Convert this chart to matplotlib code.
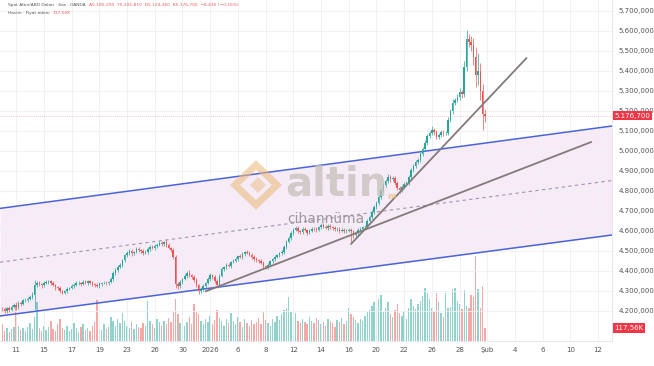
import matplotlib

matplotlib.use("Agg")
import matplotlib.pyplot as plt
import numpy as np
from matplotlib.patches import Polygon

# 4h bars, spot gold (OANDA)
first_open = 4212
close = [
    4208, 4200, 4215, 4205, 4222, 4230, 4218, 4240, 4235, 4255,
    4255, 4262, 4270, 4282, 4330, 4340, 4335, 4328, 4342, 4345,
    4348, 4340, 4330, 4318, 4315, 4300, 4292, 4298, 4310, 4316,
    4325, 4332, 4338, 4340, 4336, 4345, 4342, 4348, 4340, 4335,
    4330, 4325, 4335, 4340, 4342, 4338, 4346, 4360, 4392, 4405,
    4420, 4432, 4455, 4478, 4492, 4500, 4488, 4495, 4510, 4505,
    4498, 4490, 4495, 4512, 4520, 4515, 4525, 4532, 4540, 4535,
    4545, 4530, 4515, 4505, 4470, 4335, 4325, 4345, 4360, 4375,
    4392, 4380, 4370, 4355, 4330, 4298, 4310, 4325, 4340, 4360,
    4380, 4372, 4350, 4330, 4375, 4410, 4418, 4430, 4425, 4445,
    4452, 4460, 4475, 4470, 4485, 4495, 4490, 4482, 4470, 4460,
    4455, 4448, 4440, 4425, 4420, 4432, 4448, 4460, 4470, 4478,
    4488, 4495, 4520, 4545, 4565, 4590, 4605, 4615, 4600, 4595,
    4610, 4605, 4592, 4600, 4612, 4608, 4605, 4618, 4630, 4622,
    4615, 4625, 4620, 4615, 4608, 4612, 4600, 4605, 4598, 4602,
    4605, 4600, 4580, 4590, 4605, 4612, 4618, 4620, 4650, 4670,
    4695, 4720, 4740, 4770, 4805, 4830, 4850, 4870, 4860, 4865,
    4840, 4815, 4805, 4820, 4835, 4840, 4870, 4905, 4925, 4945,
    4955, 4985, 5010, 5040, 5075, 5090, 5105, 5095, 5070, 5080,
    5095, 5088, 5090, 5155, 5200, 5240, 5255, 5270, 5295, 5285,
    5420, 5560, 5545, 5530, 5470, 5380, 5400, 5300, 5185, 5176.7,
]
wick_hi = [
    8, 10, 6, 12, 8, 10, 15, 8, 10, 6,
    8, 6, 10, 12, 25, 8, 10, 6, 8, 10,
    6, 8, 10, 6, 8, 12, 6, 8, 10, 6,
    8, 6, 10, 8, 6, 8, 10, 6, 8, 12,
    6, 8, 10, 6, 8, 10, 6, 12, 8, 10,
    8, 10, 6, 8, 10, 12, 8, 6, 10, 8,
    6, 10, 8, 6, 12, 8, 10, 6, 8, 10,
    6, 8, 10, 6, 8, 12, 10, 8, 6, 10,
    8, 12, 6, 10, 8, 6, 10, 8, 6, 8,
    10, 6, 8, 12, 10, 8, 6, 10, 8, 6,
    8, 10, 6, 12, 8, 6, 10, 8, 6, 10,
    8, 6, 10, 8, 6, 10, 8, 6, 10, 8,
    6, 10, 8, 12, 10, 8, 10, 12, 8, 6,
    10, 8, 6, 10, 8, 6, 12, 8, 10, 8,
    6, 10, 8, 6, 12, 8, 6, 10, 8, 6,
    8, 10, 6, 8, 10, 6, 8, 12, 10, 8,
    10, 12, 8, 10, 12, 10, 8, 15, 12, 10,
    8, 12, 10, 8, 10, 12, 10, 8, 12, 10,
    12, 10, 8, 15, 12, 10, 20, 12, 10, 8,
    12, 10, 8, 15, 12, 20, 10, 15, 20, 12,
    30, 45, 25, 30, 35, 50, 90, 40, 35, 25,
]
wick_lo = [
    10, 8, 12, 10, 6, 8, 12, 10, 8, 6,
    10, 8, 6, 10, 70, 10, 8, 12, 6, 8,
    10, 8, 6, 12, 8, 10, 6, 8, 10, 6,
    8, 10, 6, 8, 10, 6, 8, 12, 6, 8,
    10, 6, 8, 10, 6, 8, 10, 6, 8, 12,
    8, 6, 10, 8, 6, 10, 12, 8, 6, 10,
    8, 10, 6, 8, 10, 6, 8, 10, 6, 8,
    10, 8, 6, 10, 12, 20, 15, 10, 8, 6,
    10, 8, 12, 10, 8, 12, 10, 8, 10, 6,
    8, 10, 12, 15, 8, 6, 10, 8, 6, 10,
    6, 8, 10, 6, 8, 10, 6, 8, 10, 8,
    10, 8, 6, 12, 10, 8, 6, 10, 8, 6,
    8, 6, 10, 8, 6, 10, 8, 6, 10, 12,
    8, 6, 10, 8, 6, 10, 8, 6, 10, 8,
    6, 10, 8, 12, 6, 8, 10, 6, 8, 10,
    8, 60, 15, 10, 8, 6, 10, 8, 6, 10,
    8, 10, 12, 8, 10, 12, 8, 10, 15, 10,
    12, 10, 15, 8, 10, 12, 8, 10, 12, 10,
    10, 12, 10, 8, 12, 10, 8, 15, 12, 10,
    12, 15, 10, 12, 10, 15, 12, 10, 15, 20,
    15, 20, 25, 30, 40, 60, 50, 45, 80, 30,
]
volume_k = [
    150, 90, 120, 80, 110, 130, 310, 140, 100, 120,
    90, 130, 160, 110, 220, 350, 120, 90, 140, 100,
    130, 180, 110, 90, 150, 200, 120, 100, 140, 90,
    110, 160, 120, 80, 130, 150, 100, 120, 90, 140,
    170, 370, 120, 100, 150, 110, 130, 220, 180, 140,
    200, 160, 250, 180, 140, 120, 170, 110, 150, 130,
    120, 160, 140, 360, 180, 150, 120, 200, 170, 140,
    180, 150, 210, 170, 260, 380, 240, 160, 200, 140,
    170, 220, 150, 330, 260, 240, 180, 150, 200, 170,
    230, 150, 190, 280, 210, 180, 140, 200, 160, 250,
    180, 150, 220, 170, 130, 200, 160, 140, 190, 150,
    170, 210, 150, 260, 190, 160, 140, 200, 170, 230,
    190, 240, 280, 300, 400, 260, 220, 250, 180, 160,
    200, 170, 150, 220, 180, 160, 210, 190, 150, 170,
    140, 200, 180, 160, 130, 190, 170, 210, 150, 180,
    300, 240, 220, 190, 160, 200, 180, 230, 260, 280,
    320, 350, 300, 380, 420, 260, 300, 350, 240, 220,
    280, 330, 250, 230, 270, 200, 300, 380, 320, 290,
    330, 360, 410, 480, 430, 380, 300, 270, 430, 350,
    250, 220, 430, 300, 310, 470, 480, 360, 330, 290,
    460, 320, 300, 420, 400, 770, 470, 300, 500, 117.56,
]

day_labels = ["11", "15", "17", "19", "23", "26", "30", "2026", "6", "8", "12",
              "14", "16", "20", "22", "26", "28", "Şub", "4", "6", "10", "12"]
price_ticks = list(range(4200, 5800, 100))

# drawings on the chart: (bar, price) end points
channel_upper = [(-1, 4713), (264, 5125)]
channel_lower = [(-1, 4175), (264, 4580)]
trend_long = [(88, 4298), (255, 5045)]
trend_steep = [(151, 4535), (227, 5465)]
last_price = 5176.7

GREEN = "#26a69a"
RED = "#ef5350"
W, H = 654, 366


def fx(x):
    return x / W


def fy(y):
    return 1 - y / H


def tr_num(v):
    return f"{v:,.3f}".replace(",", " ").replace(".", ",").replace(" ", ".")


o = np.array([first_open] + close[:-1], dtype=float)
c = np.array(close, dtype=float)
idx = np.arange(len(c))
hi = np.maximum(o, c) + np.array(wick_hi)
lo = np.minimum(o, c) - np.array(wick_lo)
colors = np.where(c >= o, GREEN, RED)

fig = plt.figure(figsize=(W / 100, H / 100), dpi=100)
ax = fig.add_axes([0, 25 / H, 612 / W, 341 / H])
ax2 = ax.twinx()

# volume pane
ax2.bar(idx, volume_k, width=0.6, color=colors, alpha=0.5, linewidth=0)
ax2.set_ylim(0, 3083)
ax2.set_yticks([])
for s in ax2.spines.values():
    s.set_visible(False)
ax.set_zorder(ax2.get_zorder() + 1)
ax.patch.set_visible(False)

# channel
xs = [channel_upper[0][0], channel_upper[1][0]]
up_y = [channel_upper[0][1], channel_upper[1][1]]
lo_y = [channel_lower[0][1], channel_lower[1][1]]
mid_y = [(a + b) / 2 for a, b in zip(up_y, lo_y)]
ax.fill_between(xs, lo_y, up_y, color="#9c27b0", alpha=0.09, linewidth=0, zorder=0)
ax.plot(xs, up_y, color="#4a63d8", lw=1.1, zorder=2)
ax.plot(xs, lo_y, color="#4a63d8", lw=1.1, zorder=2)
ax.plot(xs, mid_y, color="#a294b0", lw=0.8, ls=(0, (3, 3)), zorder=2)

# candles
ax.vlines(idx, lo, hi, colors=colors, lw=0.5, zorder=3)
ax.bar(idx, np.maximum(np.abs(c - o), 1.5), bottom=np.minimum(o, c), width=0.65,
       color=colors, linewidth=0, zorder=3)

# trend lines
for line in (trend_long, trend_steep):
    ax.plot([line[0][0], line[1][0]], [line[0][1], line[1][1]],
            color="#857a7a", lw=1.3, zorder=4, solid_capstyle="round")

ax.axhline(last_price, color=RED, lw=0.5, ls=(0, (1, 2)), alpha=0.6, zorder=2)

ax.set_xlim(-1, 264)
ax.set_ylim(4050, 5755)
ax.set_xticks(np.arange(len(day_labels)) * 12 + 6)
ax.set_xticklabels(day_labels)
ax.set_yticks(price_ticks)
ax.set_yticklabels([tr_num(p) for p in price_ticks])
ax.yaxis.tick_right()
ax.tick_params(axis="y", length=0, pad=5, labelsize=5, labelcolor="#555555")
ax.tick_params(axis="x", length=0, pad=4, labelsize=5, labelcolor="#555555")
ax.grid(color="#eef0f4", lw=0.6)
ax.set_axisbelow(True)
for side in ("top", "left"):
    ax.spines[side].set_visible(False)
for side in ("right", "bottom"):
    ax.spines[side].set_color("#e0e3eb")
    ax.spines[side].set_linewidth(0.6)

# last value tags on the scale
ax.text(1.004, last_price, tr_num(last_price), transform=ax.get_yaxis_transform(),
        fontsize=5, color="white", va="center", ha="left", zorder=10, clip_on=False,
        bbox=dict(boxstyle="square,pad=0.25", facecolor="#f23645", edgecolor="none"))
ax2.text(1.004, volume_k[-1], "117,56K", transform=ax2.get_yaxis_transform(),
         fontsize=5, color="white", va="center", ha="left", clip_on=False,
         bbox=dict(boxstyle="square,pad=0.25", facecolor="#f23645", edgecolor="none"))

# header legend, red parts placed right after the grey parts
fig.canvas.draw()
renderer = fig.canvas.get_renderer()
head = [
    ("Spot Altın/ABD Doları · 4sa · OANDA",
     "A5.185,290  Y5.205,810  D5.124,260  K5.176,700  −8,435 (−0,16%)", 5),
    ("Hacim · Fiyat adımı", "117,56K", 13),
]
for grey, red, y in head:
    t = fig.text(fx(8), fy(y), grey, fontsize=3.2, color="#555555", va="center")
    x_end = t.get_window_extent(renderer).x1
    fig.text((x_end + 3) / W, fy(y), red, fontsize=3.2, color="#f05a5a", va="center")

# watermark
logo = Polygon([(fx(256), fy(165)), (fx(277), fy(185)), (fx(256), fy(205)),
                (fx(235), fy(185))], closed=True, fill=False, edgecolor="#ebbd80",
               lw=5, alpha=0.6, transform=fig.transFigure, joinstyle="miter")
fig.patches.append(logo)
inner = Polygon([(fx(258), fy(177)), (fx(266), fy(185)), (fx(258), fy(193)),
                 (fx(250), fy(185))], closed=True, facecolor="#ebbd80", alpha=0.5,
                edgecolor="none", transform=fig.transFigure)
fig.patches.append(inner)
fig.text(fx(285), fy(185), "altin", fontsize=29, fontweight="bold", color="#c6beba",
         alpha=0.75, va="center", ha="left")
fig.text(fx(387), fy(196), "m", fontsize=6, fontweight="bold", color="#ebbd80",
         alpha=0.8, va="center", ha="left")
fig.text(fx(326), fy(219), "cihannüma", fontsize=10, color="#8c8c8c", alpha=0.85,
         va="center", ha="center")

fig.savefig("out.png", dpi=100)
